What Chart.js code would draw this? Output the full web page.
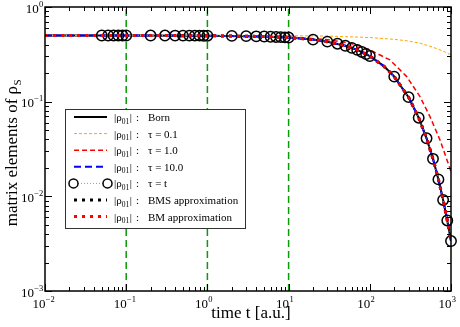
<!DOCTYPE html>
<html><head><meta charset="utf-8">
<script src="https://cdn.jsdelivr.net/npm/chart.js@4/dist/chart.umd.min.js"></script>
<style>html,body{margin:0;padding:0;background:#fff}</style>
</head><body>
<canvas id="c" width="460" height="327"></canvas>
<script>
// ---- data ----
const xTickExps = [-2, -1, 0, 1, 2, 3];
const yTickExps = [-3, -2, -1, 0];
const markerTimes = [0.1, 1, 10];

const tBorn = [0.01, 0.1, 1, 5, 10, 20, 30, 50, 70, 100, 150, 200, 300, 400, 500, 600, 700, 800, 900, 1000];
const born  = [0.5, 0.5, 0.4975, 0.4877, 0.4756, 0.4524, 0.4304, 0.3894, 0.3523, 0.3033, 0.2362, 0.1839, 0.1116, 0.0677, 0.0410, 0.0249, 0.0151, 0.00916, 0.00556, 0.00337];
const tau10 = [0.5, 0.5, 0.4975, 0.4877, 0.4756, 0.4524, 0.4304, 0.3894, 0.3523, 0.3033, 0.2362, 0.1839, 0.1116, 0.0677, 0.0410, 0.0249, 0.0151, 0.00916, 0.00556, 0.00337];
const bms   = [0.5, 0.5, 0.4975, 0.4877, 0.4756, 0.4524, 0.4304, 0.3894, 0.3523, 0.3033, 0.2362, 0.1839, 0.1116, 0.0677, 0.0410, 0.0249, 0.0151, 0.00916, 0.00556, 0.00337];
const bm    = [0.5, 0.5, 0.4975, 0.4877, 0.4756, 0.4524, 0.4304, 0.3894, 0.3523, 0.3033, 0.2362, 0.1839, 0.1116, 0.0677, 0.0410, 0.0249, 0.0151, 0.00916, 0.00556, 0.00337];

const tTau1 = [0.01, 1, 10, 30, 50, 70, 100, 177, 285, 415, 551, 732, 1000];
const tau1  = [0.5, 0.499, 0.482, 0.452, 0.423, 0.395, 0.352, 0.276, 0.184, 0.113, 0.0695, 0.0394, 0.0183];

const tTau01 = [0.01, 1, 10, 30, 100, 200, 285, 415, 600, 800, 1000];
const tau01  = [0.5, 0.5, 0.4976, 0.493, 0.476, 0.455, 0.44, 0.415, 0.376, 0.342, 0.312];

const tCirc = [0.05, 0.06, 0.07, 0.08, 0.09, 0.1, 0.2, 0.3, 0.4, 0.5, 0.6, 0.7, 0.8, 0.9, 1,
               2, 3, 4, 5, 6, 7, 8, 9, 10, 20, 30, 40, 50, 60, 70, 80, 90, 100,
               200, 300, 400, 500, 600, 700, 800, 900, 1000];
const circ  = [0.5, 0.5, 0.5, 0.5, 0.5, 0.5, 0.4995, 0.4993, 0.499, 0.4988, 0.4985, 0.4983, 0.498, 0.4978, 0.4975,
               0.495, 0.4925, 0.490, 0.4877, 0.4852, 0.4828, 0.4804, 0.478, 0.4756, 0.4524, 0.4304, 0.4094, 0.3894, 0.3704, 0.3523, 0.3352, 0.3188, 0.3033,
               0.1839, 0.1116, 0.0677, 0.0410, 0.0249, 0.0151, 0.00916, 0.00556, 0.00337];

const legendLabels = ['Born', 'τ = 0.1', 'τ = 1.0', 'τ = 10.0', 'τ = t', 'BMS approximation', 'BM approximation'];

const pts = (xs, ys) => xs.map((v, i) => ({x: v, y: ys[i]}));

const SERIF = '"Liberation Serif", "DejaVu Serif", serif';

const datasets = [
  {key:'bm', data: pts(tBorn, bm), borderColor:'#ff0000', borderWidth:3, borderDash:[3,5], order:0},
  {key:'bms', data: pts(tBorn, bms), borderColor:'#000000', borderWidth:3, borderDash:[3,5], order:1},
  {key:'circ', data: pts(tCirc, circ), borderColor:'#999999', borderWidth:1, borderDash:[1,2], showLine:true,
   pointRadius:5.2, pointBorderColor:'#000', pointBorderWidth:1.5, pointBackgroundColor:'rgba(0,0,0,0)', order:2, clip:false},
  {key:'tau10', data: pts(tBorn, tau10), borderColor:'#0000ff', borderWidth:2, borderDash:[7,4], order:3},
  {key:'tau1', data: pts(tTau1, tau1), borderColor:'#ff0000', borderWidth:1.5, borderDash:[5,3], order:4},
  {key:'tau01', data: pts(tTau01, tau01), borderColor:'#ffa500', borderWidth:1, borderDash:[3,2], order:5},
  {key:'born', data: pts(tBorn, born), borderColor:'#000000', borderWidth:2, order:6},
].map(d => Object.assign({showLine:true, pointRadius:0, fill:false, tension:0, borderCapStyle:'butt'}, d));

markerTimes.forEach((t, i) => datasets.push({
  key:'mark'+i, data:[{x:t, y:0.001}, {x:t, y:1}], showLine:true, pointRadius:0,
  borderColor:'#0a9a0a', borderWidth:1.5, borderDash:[7,4], order:7
}));

function drawPow(ctx, exp, x, y, mode) {
  ctx.textBaseline = 'alphabetic';
  ctx.font = '13px ' + SERIF;
  const wb = ctx.measureText('10').width;
  ctx.font = '8.5px ' + SERIF;
  const es = String(exp).replace('-', '\u2212');
  const we = ctx.measureText(es).width;
  let xb;
  if (mode === 'x') xb = x - wb + 0.5; else xb = x - we - wb;
  ctx.font = '13px ' + SERIF;
  ctx.textAlign = 'left';
  ctx.fillText('10', xb, y);
  ctx.font = '8.5px ' + SERIF;
  ctx.fillText(es, xb + wb + 0.3, y - 6);
}

const axesPlugin = {
  id: 'axesPlugin',
  afterDatasetsDraw(chart) {
    // legend box
    const ctx = chart.ctx;
    const bx = 65.5, by = 109.5, bw = 180, bh = 119;
    ctx.save();
    ctx.fillStyle = '#fff';
    ctx.fillRect(bx, by, bw, bh);
    ctx.strokeStyle = '#333';
    ctx.lineWidth = 1;
    ctx.strokeRect(bx, by, bw, bh);
    const order = ['born','tau01','tau1','tau10','circ','bms','bm'];
    order.forEach((k, i) => {
      const ds = chart.data.datasets.find(d => d.key === k);
      const yy = 117 + i * 16.6;
      ctx.save();
      ctx.strokeStyle = ds.borderColor;
      ctx.lineWidth = ds.borderWidth;
      ctx.setLineDash(ds.borderDash || []);
      ctx.lineCap = 'butt';
      ctx.beginPath();
      if (k === 'circ') { ctx.moveTo(78, yy); ctx.lineTo(103, yy); }
      else { ctx.moveTo(74, yy); ctx.lineTo(107, yy); }
      ctx.stroke();
      if (k === 'circ') {
        ctx.setLineDash([]);
        ctx.strokeStyle = '#000'; ctx.lineWidth = 1.5;
        [73.5, 107.5].forEach(cx => { ctx.beginPath(); ctx.arc(cx, yy, 4.5, 0, Math.PI*2); ctx.stroke(); });
      }
      ctx.restore();
      // text
      ctx.fillStyle = '#000';
      ctx.textBaseline = 'alphabetic';
      ctx.textAlign = 'left';
      const base = yy + 4;
      ctx.font = '11px ' + SERIF;
      let x0 = 114;
      ctx.fillText('|\u03c1', x0, base);
      x0 += ctx.measureText('|\u03c1').width;
      ctx.font = '7.5px ' + SERIF;
      ctx.fillText('01', x0, base + 2.5);
      x0 += ctx.measureText('01').width;
      ctx.font = '11px ' + SERIF;
      ctx.fillText('|', x0 + 0.5, base);
      ctx.fillText(':', 136, base);
      ctx.fillText(legendLabels[i], 148, base);
    });
    ctx.restore();
  },
  afterDraw(chart) {
    const {ctx, chartArea: a, scales: {x, y}} = chart;
    ctx.save();
    ctx.strokeStyle = '#000';
    ctx.lineWidth = 1;
    ctx.beginPath();
    for (let e = -2; e <= 2; e++) for (let k = 1; k <= 10; k++) {
      const v = k * Math.pow(10, e);
      const px = Math.round(x.getPixelForValue(v)) + 0.5;
      const len = (k === 1 || k === 10) ? 7 : 4;
      ctx.moveTo(px, a.bottom); ctx.lineTo(px, a.bottom - len);
      ctx.moveTo(px, a.top); ctx.lineTo(px, a.top + len);
    }
    for (let e = -3; e <= -1; e++) for (let k = 1; k <= 10; k++) {
      const v = k * Math.pow(10, e);
      const py = Math.round(y.getPixelForValue(v)) + 0.5;
      const len = (k === 1 || k === 10) ? 7 : 4;
      ctx.moveTo(a.left, py); ctx.lineTo(a.left + len, py);
      ctx.moveTo(a.right, py); ctx.lineTo(a.right - len, py);
    }
    ctx.stroke();
    ctx.lineWidth = 1.5;
    ctx.strokeRect(a.left, a.top, a.right - a.left, a.bottom - a.top);
    ctx.fillStyle = '#000';
    xTickExps.forEach(e => drawPow(ctx, e, x.getPixelForValue(Math.pow(10, e)), a.bottom + 16.5, 'x'));
    yTickExps.forEach(e => drawPow(ctx, e, a.left - 2, y.getPixelForValue(Math.pow(10, e)) + 5.5, 'y'));
    // x title
    ctx.font = '17px ' + SERIF;
    ctx.textAlign = 'center';
    ctx.textBaseline = 'alphabetic';
    ctx.fillText('time t [a.u.]', (a.left + a.right) / 2 + 3, 318);
    // y title
    ctx.save();
    ctx.translate(17, (a.top + a.bottom) / 2 + 4);
    ctx.rotate(-Math.PI / 2);
    const main = 'matrix elements of \u03c1';
    ctx.font = '17px ' + SERIF;
    const wm = ctx.measureText(main).width;
    ctx.font = '11px ' + SERIF;
    const ws = ctx.measureText('S').width;
    const start = -(wm + ws) / 2;
    ctx.font = '17px ' + SERIF;
    ctx.textAlign = 'left';
    ctx.fillText(main, start, 0);
    ctx.font = '11px ' + SERIF;
    ctx.fillText('S', start + wm + 0.5, 4);
    ctx.restore();
    ctx.restore();
  }
};

new Chart(document.getElementById('c'), {
  type: 'scatter',
  data: { datasets },
  options: {
    responsive: false,
    animation: false,
    devicePixelRatio: 1,
    layout: { padding: { left: 45, top: 7, right: 9, bottom: 36 } },
    plugins: { legend: { display: false }, tooltip: { enabled: false } },
    scales: {
      x: { type: 'logarithmic', min: 0.01, max: 1000, display: false },
      y: { type: 'logarithmic', min: 0.001, max: 1, display: false }
    }
  },
  plugins: [axesPlugin]
});
</script>
</body></html>
